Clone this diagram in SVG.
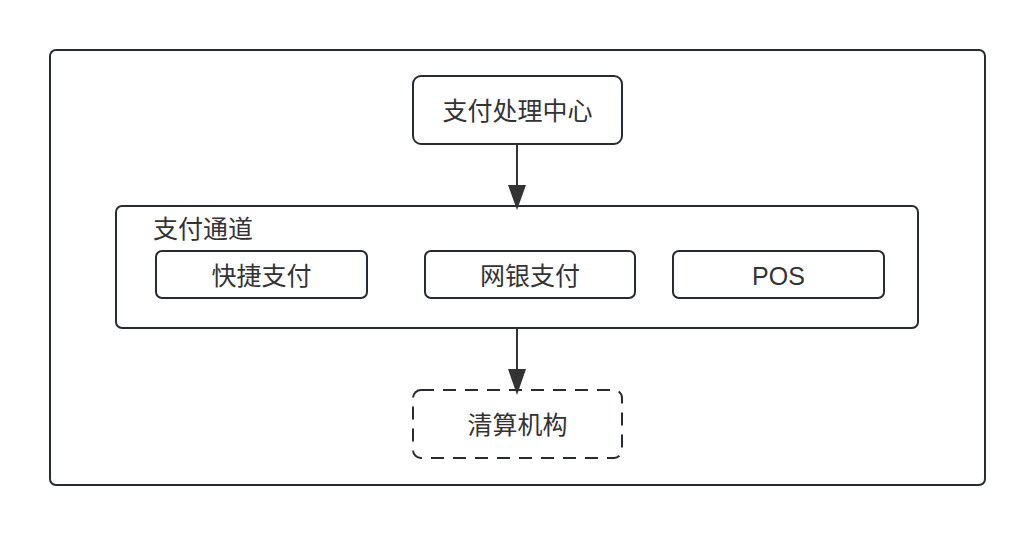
<svg xmlns="http://www.w3.org/2000/svg" width="1036" height="536" viewBox="0 0 1036 536">
<style>
.box{fill:#fff;stroke:#272c33;stroke-width:2}
.dash{fill:#fff;stroke:#272c33;stroke-width:2;stroke-dasharray:13 9}
.t{font-family:"Liberation Sans","Noto Sans CJK SC",sans-serif;font-size:25px;fill:#333;text-anchor:middle;dominant-baseline:central}
.e{stroke:#333;stroke-width:2;fill:none}
</style>
<g id="frame"><rect class="box" x="50" y="50" width="935" height="435" rx="6"/></g>
<g id="channel">
<rect class="box" x="116" y="206" width="802" height="122" rx="6"/>
<text class="t" x="153" y="229" style="text-anchor:start">支付通道</text>
</g>
<g id="center"><rect class="box" x="413" y="76" width="209" height="68" rx="8"/><text class="t" x="517.5" y="111">支付处理中心</text></g>
<g id="quick"><rect class="box" x="156" y="251" width="211" height="47" rx="6"/><text class="t" x="261.5" y="276">快捷支付</text></g>
<g id="ebank"><rect class="box" x="425" y="251" width="210" height="47" rx="6"/><text class="t" x="530" y="276">网银支付</text></g>
<g id="pos"><rect class="box" x="673" y="251" width="211" height="47" rx="6"/><text class="t" x="778.5" y="276">POS</text></g>
<g id="clearing"><rect class="dash" x="413" y="390" width="209" height="68" rx="8"/><text class="t" x="517.5" y="425">清算机构</text></g>
<g id="connectors">
<path class="e" d="M517,144 L517,185"/>
<path d="M508,185 L526,185 L517,210 Z" fill="#333"/>
<path class="e" d="M517,328 L517,370"/>
<path d="M508,369 L526,369 L517,395 Z" fill="#333"/>
</g>
</svg>
